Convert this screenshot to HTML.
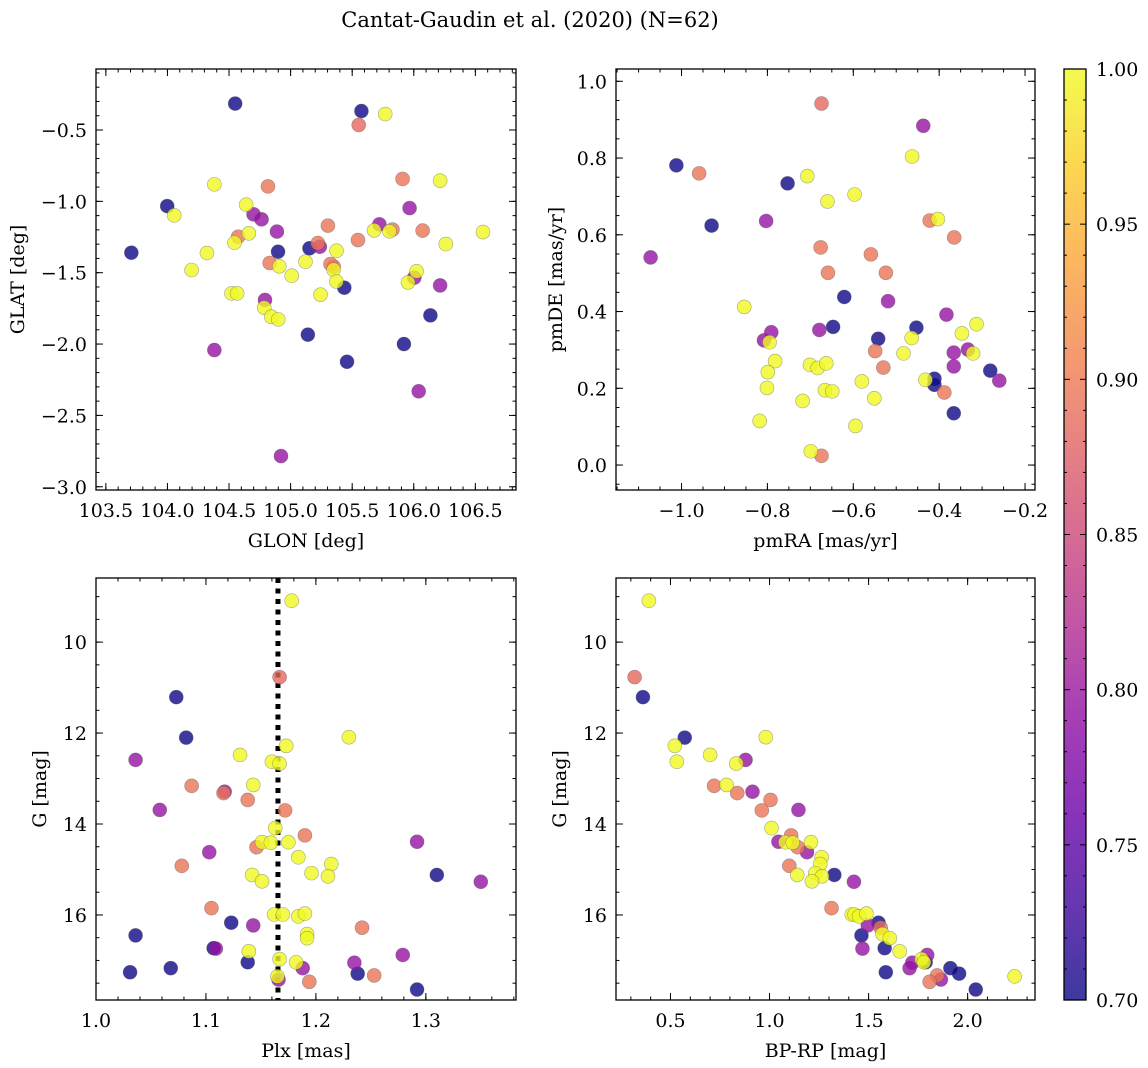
<!DOCTYPE html>
<html><head><meta charset="utf-8"><title>Cantat-Gaudin et al. (2020)</title>
<style>
html,body{margin:0;padding:0;background:#fff;}
svg{display:block;font-family:"DejaVu Serif","Liberation Serif",serif;}
</style></head>
<body>
<svg id="fig" width="1148" height="1068" viewBox="0 0 1148 1068" xmlns="http://www.w3.org/2000/svg">
<text x="530" y="27" font-size="21" text-anchor="middle">Cantat-Gaudin et al. (2020) (N=62)</text>
</svg>
<script>
// ---- data (62 members), grouped by membership probability ----
const prob = [
0.70,0.70,0.70,0.70,0.70,0.70,0.70,0.70,0.70,0.70,0.70,
0.795,0.795,0.795,0.795,0.795,0.795,0.795,0.795,0.795,0.795,0.795,0.795,
0.885,0.895,0.895,0.895,0.895,0.895,0.895,0.895,0.895,0.895,0.895,0.895,
1,1,1,1,1,1,1,1,1,1,1,1,1,1,1,1,1,1,1,1,1,1,1,1,1,1,1];
const glon = [
104.55,105.575,103.998,103.707,104.898,105.153,105.436,106.135,105.14,105.92,105.458,
104.699,104.764,104.889,105.237,105.721,105.966,106.004,106.214,104.792,104.381,106.04,104.922,
105.553,104.816,105.909,104.574,104.83,105.303,105.547,105.221,105.827,106.072,105.349,105.324,
105.768,104.381,106.214,104.639,104.055,104.661,104.544,104.321,104.196,104.908,105.009,105.121,105.373,105.349,105.371,105.678,105.803,106.26,106.562,106.023,105.953,104.52,104.566,105.243,104.786,104.843,104.9];
const glat = [
-0.315,-0.367,-1.033,-1.36,-1.353,-1.329,-1.605,-1.799,-1.934,-2.0,-2.124,
-1.091,-1.126,-1.212,-1.318,-1.161,-1.047,-1.535,-1.589,-1.691,-2.042,-2.331,-2.785,
-0.465,-0.895,-0.843,-1.248,-1.432,-1.17,-1.271,-1.292,-1.198,-1.205,-1.458,-1.439,
-0.388,-0.881,-0.855,-1.023,-1.098,-1.224,-1.29,-1.362,-1.481,-1.455,-1.521,-1.423,-1.346,-1.479,-1.561,-1.203,-1.21,-1.299,-1.215,-1.49,-1.568,-1.645,-1.645,-1.654,-1.745,-1.808,-1.827];
const pmra = [
-1.012,-0.93,-0.753,-0.621,-0.647,-0.542,-0.453,-0.411,-0.411,-0.281,-0.366,
-1.072,-0.803,-0.437,-0.519,-0.679,-0.791,-0.808,-0.383,-0.366,-0.333,-0.366,-0.26,
-0.674,-0.959,-0.422,-0.365,-0.676,-0.559,-0.659,-0.524,-0.549,-0.53,-0.388,-0.674,
-0.463,-0.707,-0.597,-0.66,-0.403,-0.854,-0.464,-0.347,-0.313,-0.321,-0.483,-0.795,-0.782,-0.799,-0.701,-0.683,-0.663,-0.801,-0.58,-0.666,-0.649,-0.432,-0.718,-0.551,-0.818,-0.595,-0.699];
const pmde = [
0.781,0.624,0.734,0.438,0.36,0.329,0.358,0.225,0.209,0.246,0.135,
0.541,0.636,0.884,0.427,0.352,0.346,0.325,0.392,0.293,0.301,0.257,0.22,
0.942,0.76,0.637,0.593,0.567,0.549,0.501,0.501,0.297,0.254,0.189,0.024,
0.804,0.753,0.705,0.687,0.641,0.412,0.331,0.343,0.367,0.291,0.291,0.32,0.271,0.242,0.261,0.253,0.265,0.201,0.218,0.195,0.192,0.222,0.167,0.174,0.115,0.102,0.036];
const plx = [
1.073,1.082,1.107,1.123,1.036,1.031,1.068,1.138,1.238,1.292,1.310,
1.036,1.058,1.103,1.109,1.117,1.143,1.188,1.235,1.279,1.292,1.350,1.166,
1.167,1.087,1.116,1.138,1.172,1.190,1.146,1.078,1.105,1.242,1.253,1.194,
1.178,1.230,1.173,1.131,1.160,1.167,1.143,1.163,1.151,1.159,1.175,1.184,1.214,1.196,1.211,1.142,1.151,1.162,1.170,1.184,1.190,1.192,1.192,1.139,1.167,1.182,1.165];
const gmag = [
11.21,12.10,16.73,16.17,16.45,17.26,17.17,17.04,17.29,17.64,15.12,
12.59,13.69,14.62,16.74,13.29,16.23,17.17,17.05,16.88,14.39,15.27,17.42,
10.77,13.16,13.32,13.47,13.70,14.25,14.51,14.92,15.85,16.28,17.33,17.47,
9.09,12.09,12.28,12.48,12.63,12.67,13.14,14.09,14.40,14.41,14.40,14.73,14.88,15.08,15.15,15.12,15.26,15.99,15.99,16.03,15.97,16.42,16.51,16.80,16.97,17.04,17.35];
const bprp = [
0.361,0.572,1.581,1.550,1.464,1.587,1.913,1.788,1.957,2.041,1.327,
0.879,1.146,1.189,1.469,0.914,1.496,1.707,1.721,1.796,1.045,1.426,1.865,
0.319,0.720,0.837,1.005,0.961,1.109,1.142,1.100,1.313,1.561,1.846,1.808,
0.391,0.981,0.522,0.700,0.532,0.832,0.783,1.010,1.080,1.117,1.209,1.263,1.256,1.231,1.265,1.140,1.214,1.415,1.429,1.452,1.489,1.570,1.607,1.657,1.768,1.779,2.237];
const plxMean = 1.1655;
const cbTicks = [0.70,0.75,0.80,0.85,0.90,0.95,1.00];

const NS = "http://www.w3.org/2000/svg";
const svg = document.getElementById('fig');
function el(tag, attrs, parent){const e=document.createElementNS(NS,tag);for(const k in attrs)e.setAttribute(k,attrs[k]);(parent||svg).appendChild(e);return e;}

const plasma=[[13,8,135],[65,4,157],[106,0,168],[143,13,164],[177,42,144],[204,71,120],[225,100,98],[242,132,75],[252,166,54],[252,206,37],[240,249,33]];
function cmap(p){let t=(p-0.7)/0.3;t=Math.max(0,Math.min(1,t));const f=t*10,i=Math.min(9,Math.floor(f)),u=f-i;const a=plasma[i],b=plasma[i+1];return `rgb(${Math.round(a[0]+(b[0]-a[0])*u)},${Math.round(a[1]+(b[1]-a[1])*u)},${Math.round(a[2]+(b[2]-a[2])*u)})`;}
function fmt(v,d){const s=Math.abs(v).toFixed(d);return (v<-1e-9?"\u2212":"")+s;}
const FS=19;

function panel(o){
  const g=el('g',{});
  
  
  const X=v=>o.x0+(v-o.xd[0])/(o.xd[1]-o.xd[0])*(o.x1-o.x0);
  const Y=o.yinv? v=>o.y0+(v-o.yd[0])/(o.yd[1]-o.yd[0])*(o.y1-o.y0) : v=>o.y1-(v-o.yd[0])/(o.yd[1]-o.yd[0])*(o.y1-o.y0);
  if(o.vline!==undefined){
    const ln=el('line',{x1:X(o.vline),x2:X(o.vline),y1:o.y0,y2:o.y1,stroke:'#000','stroke-width':5,'stroke-dasharray':'5,5.5'},g);
    
    
  }
  for(let i=0;i<o.xs.length;i++){
    const c=el('circle',{cx:X(o.xs[i]),cy:Y(o.ys[i]),r:7,fill:cmap(prob[i]),'fill-opacity':0.8,stroke:'#555','stroke-opacity':0.5,'stroke-width':0.6},g);
    
    
  }
  const fr=el('rect',{x:o.x0,y:o.y0,width:o.x1-o.x0,height:o.y1-o.y0,fill:'none',stroke:'#000','stroke-width':1.3},g);
  
  
  function ticks(d,step){const a=[];const s=Math.ceil(d[0]/step-1e-9),e=Math.floor(d[1]/step+1e-9);for(let k=s;k<=e;k++)a.push(k*step);return a;}
  const tk=el('g',{stroke:'#000','stroke-width':1},g);
  
  
  ticks(o.xd,o.xminor).forEach(v=>{const x=X(v);el('line',{x1:x,x2:x,y1:o.y1,y2:o.y1-3.5},tk);el('line',{x1:x,x2:x,y1:o.y0,y2:o.y0+3.5},tk);});
  ticks(o.yd,o.yminor).forEach(v=>{const y=Y(v);el('line',{x1:o.x0,x2:o.x0+3.5,y1:y,y2:y},tk);el('line',{x1:o.x1,x2:o.x1-3.5,y1:y,y2:y},tk);});
  ticks(o.xd,o.xmajor).forEach(v=>{const x=X(v);el('line',{x1:x,x2:x,y1:o.y1,y2:o.y1-7},tk);el('line',{x1:x,x2:x,y1:o.y0,y2:o.y0+7},tk);
    const t=el('text',{x:x,y:o.y1+27,'font-size':FS,'text-anchor':'middle'},g);t.textContent=fmt(v,o.xdec);
    
    });
  ticks(o.yd,o.ymajor).forEach(v=>{const y=Y(v);el('line',{x1:o.x0,x2:o.x0+7,y1:y,y2:y},tk);el('line',{x1:o.x1,x2:o.x1-7,y1:y,y2:y},tk);
    const t=el('text',{x:o.x0-9,y:y+7,'font-size':FS,'text-anchor':'end'},g);t.textContent=fmt(v,o.ydec);
    
    });
  const xl=el('text',{x:(o.x0+o.x1)/2,y:o.y1+57,'font-size':FS,'text-anchor':'middle'},g);xl.textContent=o.xlabel;
  
  
  const yx=o.ylabx,yy=(o.y0+o.y1)/2;
  const yl=el('text',{x:yx,y:yy,'font-size':FS,'text-anchor':'middle',transform:`rotate(-90 ${yx} ${yy})`},g);yl.textContent=o.ylabel;
  
  
}

panel({name:'glon-glat-panel',x0:96,x1:516,y0:69,y1:490,xd:[103.42,106.83],yd:[-3.0227,-0.0725],xs:glon,ys:glat,xmajor:0.5,xminor:0.1,ymajor:0.5,yminor:0.1,xdec:1,ydec:1,xlabel:'GLON [deg]',ylabel:'GLAT [deg]',ylabx:24});
panel({name:'proper-motion-panel',x0:616,x1:1035,y0:69,y1:490,xd:[-1.1526,-0.1768],yd:[-0.065,1.032],xs:pmra,ys:pmde,xmajor:0.2,xminor:0.05,ymajor:0.2,yminor:0.05,xdec:1,ydec:1,xlabel:'pmRA [mas/yr]',ylabel:'pmDE [mas/yr]',ylabx:562});
panel({name:'parallax-panel',x0:96,x1:516,y0:578,y1:1000,xd:[1.0,1.382],yd:[8.59,17.87],yinv:true,xs:plx,ys:gmag,xmajor:0.1,xminor:0.02,ymajor:2,yminor:0.5,xdec:1,ydec:0,xlabel:'Plx [mas]',ylabel:'G [mag]',ylabx:46,vline:plxMean});
panel({name:'cmd-panel',x0:616,x1:1035,y0:578,y1:1000,xd:[0.225,2.34],yd:[8.59,17.87],yinv:true,xs:bprp,ys:gmag,xmajor:0.5,xminor:0.1,ymajor:2,yminor:0.5,xdec:1,ydec:0,xlabel:'BP-RP [mag]',ylabel:'G [mag]',ylabx:566});

// colorbar
const cb=el('g',{});


const defs=el('defs',{},cb);
const lg=el('linearGradient',{id:'cbg',x1:0,y1:1,x2:0,y2:0},defs);
for(let k=0;k<=10;k++){el('stop',{offset:k/10,'stop-color':cmap(0.7+0.03*k),'stop-opacity':0.8},lg);}
const cbx0=1064,cbx1=1086,cby0=69,cby1=1000;
const CY=v=>cby1-(v-0.7)/0.3*(cby1-cby0);
el('rect',{x:cbx0,y:cby0,width:cbx1-cbx0,height:cby1-cby0,fill:'url(#cbg)',stroke:'#000','stroke-width':1.3},cb);
for(let k=70;k<=100;k++){const y=CY(k/100);const major=k%5===0;const L=major?6:3;
  el('line',{x1:cbx1,x2:cbx1-L,y1:y,y2:y,stroke:'#000','stroke-width':1},cb);
  el('line',{x1:cbx0,x2:cbx0+L,y1:y,y2:y,stroke:'#000','stroke-width':1},cb);}
cbTicks.forEach(v=>{const t=el('text',{x:cbx1+10,y:CY(v)+7,'font-size':FS},cb);t.textContent=v.toFixed(2);
  
  });
</script>
</body></html>
